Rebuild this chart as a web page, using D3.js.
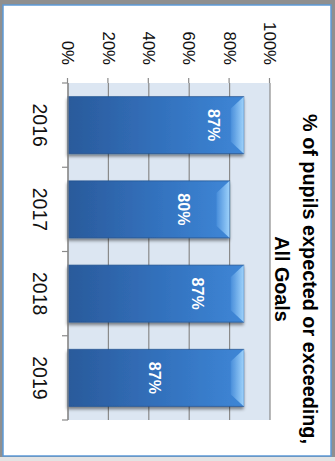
<!DOCTYPE html>
<html>
<head>
<meta charset="utf-8">
<script src="https://cdn.jsdelivr.net/npm/d3@7"></script>
<style>
  html, body { margin: 0; padding: 0; background: #fff; }
  svg { display: block; }
</style>
</head>
<body>
<script>
// ---- data ----
const years = ["2016", "2017", "2018", "2019"];
const pctValues = [87, 80, 87, 87];
const valueTicks = [0, 20, 40, 60, 80, 100];
const titleLines = ["% of pupils expected or exceeding,", "All Goals"];
// where each value label sits along its bar, in axis percent
const labelAnchor = [72, 57, 64, 43];

// ---- layout ----
const W = 335, H = 461;
// The chart is laid out upright in an H x W frame, then turned a quarter turn clockwise.
const plot = { left: 83, right: 420, top: 65, bottom: 267 };

const svg = d3.select("body").append("svg")
  .attr("width", W).attr("height", H);

const defs = svg.append("defs");

const body = defs.append("linearGradient").attr("id", "barBody")
  .attr("x1", 0).attr("y1", 1).attr("x2", 0).attr("y2", 0);
body.append("stop").attr("offset", 0).attr("stop-color", "#2a5a9b");
body.append("stop").attr("offset", 0.55).attr("stop-color", "#3372be");
body.append("stop").attr("offset", 1).attr("stop-color", "#3e86d6");

const cap = defs.append("linearGradient").attr("id", "barCap")
  .attr("x1", 0).attr("y1", 1).attr("x2", 0).attr("y2", 0);
cap.append("stop").attr("offset", 0).attr("stop-color", "#4a8fdb");
cap.append("stop").attr("offset", 1).attr("stop-color", "#a3d6fd");

const shadow = defs.append("filter").attr("id", "barShadow")
  .attr("x", "-20%").attr("y", "-20%").attr("width", "140%").attr("height", "140%");
shadow.append("feDropShadow")
  .attr("dx", 2.5).attr("dy", 0.5).attr("stdDeviation", 1.6)
  .attr("flood-color", "#000").attr("flood-opacity", 0.45);

// surrounding shadow and the framed chart area (screen coordinates)
svg.append("rect").attr("x", 0).attr("y", 0).attr("width", W).attr("height", H)
  .attr("fill", "#8f8f8f");
svg.append("rect").attr("x", 0).attr("y", 457).attr("width", W).attr("height", 4)
  .attr("fill", "#e3e3e3");
svg.append("rect").attr("x", 3).attr("y", 5).attr("width", 328).attr("height", 451)
  .attr("fill", "#ffffff").attr("stroke", "#5d9ad8").attr("stroke-width", 1.5);

const g = svg.append("g").attr("transform", `translate(${W},0) rotate(90)`);

// ---- scales ----
const x = d3.scaleBand().domain(years)
  .range([plot.left, plot.right]).paddingInner(0.323).paddingOuter(0.1615);
const y = d3.scaleLinear().domain([0, 100]).range([plot.bottom, plot.top]);

// plot area
g.append("rect")
  .attr("x", plot.left).attr("y", plot.top)
  .attr("width", plot.right - plot.left).attr("height", plot.bottom - plot.top)
  .attr("fill", "#dce6f2");

// gridlines
g.append("g").selectAll("line").data(valueTicks).join("line")
  .attr("x1", plot.left).attr("x2", plot.right)
  .attr("y1", d => y(d)).attr("y2", d => y(d))
  .attr("stroke", "#8a8a8a").attr("stroke-width", 1.2);

// value axis (ticks and labels, no spine)
const yAxis = g.append("g").attr("transform", `translate(${plot.left},0)`)
  .call(d3.axisLeft(y).tickValues(valueTicks).tickSize(5).tickPadding(13)
    .tickFormat(d => d + "%"));
yAxis.select(".domain").remove();
yAxis.selectAll(".tick line").attr("stroke", "#8a8a8a").attr("stroke-width", 1.2);
yAxis.selectAll(".tick text")
  .attr("font-family", "'Liberation Sans', Arial, sans-serif")
  .attr("font-size", 16.8).attr("fill", "#111");

// bars
const bars = g.append("g").selectAll("g").data(years).join("g")
  .attr("filter", "url(#barShadow)");

bars.append("rect")
  .attr("x", d => x(d)).attr("width", x.bandwidth())
  .attr("y", (d, i) => y(pctValues[i]))
  .attr("height", (d, i) => y(0) - y(pctValues[i]))
  .attr("fill", "url(#barBody)")
  .attr("stroke", "#22518e").attr("stroke-opacity", 0.7).attr("stroke-width", 1);

// bevelled end cap
const capDepth = 13, capInset = 12;
bars.append("polygon")
  .attr("points", (d, i) => {
    const x0 = x(d), x1 = x(d) + x.bandwidth(), yt = y(pctValues[i]);
    return [[x0, yt], [x1, yt], [x1 - capInset, yt + capDepth], [x0 + capInset, yt + capDepth]]
      .map(p => p.join(",")).join(" ");
  })
  .attr("fill", "url(#barCap)").attr("opacity", 0.95);

// value labels
g.append("g").selectAll("text").data(years).join("text")
  .attr("x", d => x(d) + x.bandwidth() / 2)
  .attr("y", (d, i) => y(labelAnchor[i]))
  .attr("text-anchor", "middle").attr("dominant-baseline", "central")
  .attr("font-family", "'Liberation Sans', Arial, sans-serif")
  .attr("font-weight", "bold").attr("font-size", 16)
  .attr("fill", "#ffffff")
  .text((d, i) => pctValues[i] + "%");

// category axis
const catAxis = g.append("g");
catAxis.append("line")
  .attr("x1", plot.left).attr("x2", plot.right)
  .attr("y1", plot.bottom).attr("y2", plot.bottom)
  .attr("stroke", "#8a8a8a").attr("stroke-width", 1.2);
const bounds = d3.range(years.length + 1).map(i => plot.left + i * x.step());
catAxis.selectAll("line.tick").data(bounds).join("line").attr("class", "tick")
  .attr("x1", d => d).attr("x2", d => d)
  .attr("y1", plot.bottom).attr("y2", plot.bottom + 6)
  .attr("stroke", "#8a8a8a").attr("stroke-width", 1.2);

const xAxis = g.append("g").attr("transform", `translate(0,${plot.bottom})`)
  .call(d3.axisBottom(x).tickSize(0).tickPadding(21));
xAxis.select(".domain").remove();
xAxis.selectAll(".tick text")
  .attr("font-family", "'Liberation Sans', Arial, sans-serif")
  .attr("font-size", 19.5).attr("fill", "#111");

// title
g.append("text")
  .attr("x", 279).attr("text-anchor", "middle")
  .attr("font-family", "'Liberation Sans', Arial, sans-serif")
  .attr("font-weight", "bold").attr("font-size", 19.8).attr("fill", "#000")
  .selectAll("tspan").data(titleLines).join("tspan")
  .attr("x", 279).attr("y", (d, i) => 32 + i * 28)
  .text(d => d);
</script>
</body>
</html>
